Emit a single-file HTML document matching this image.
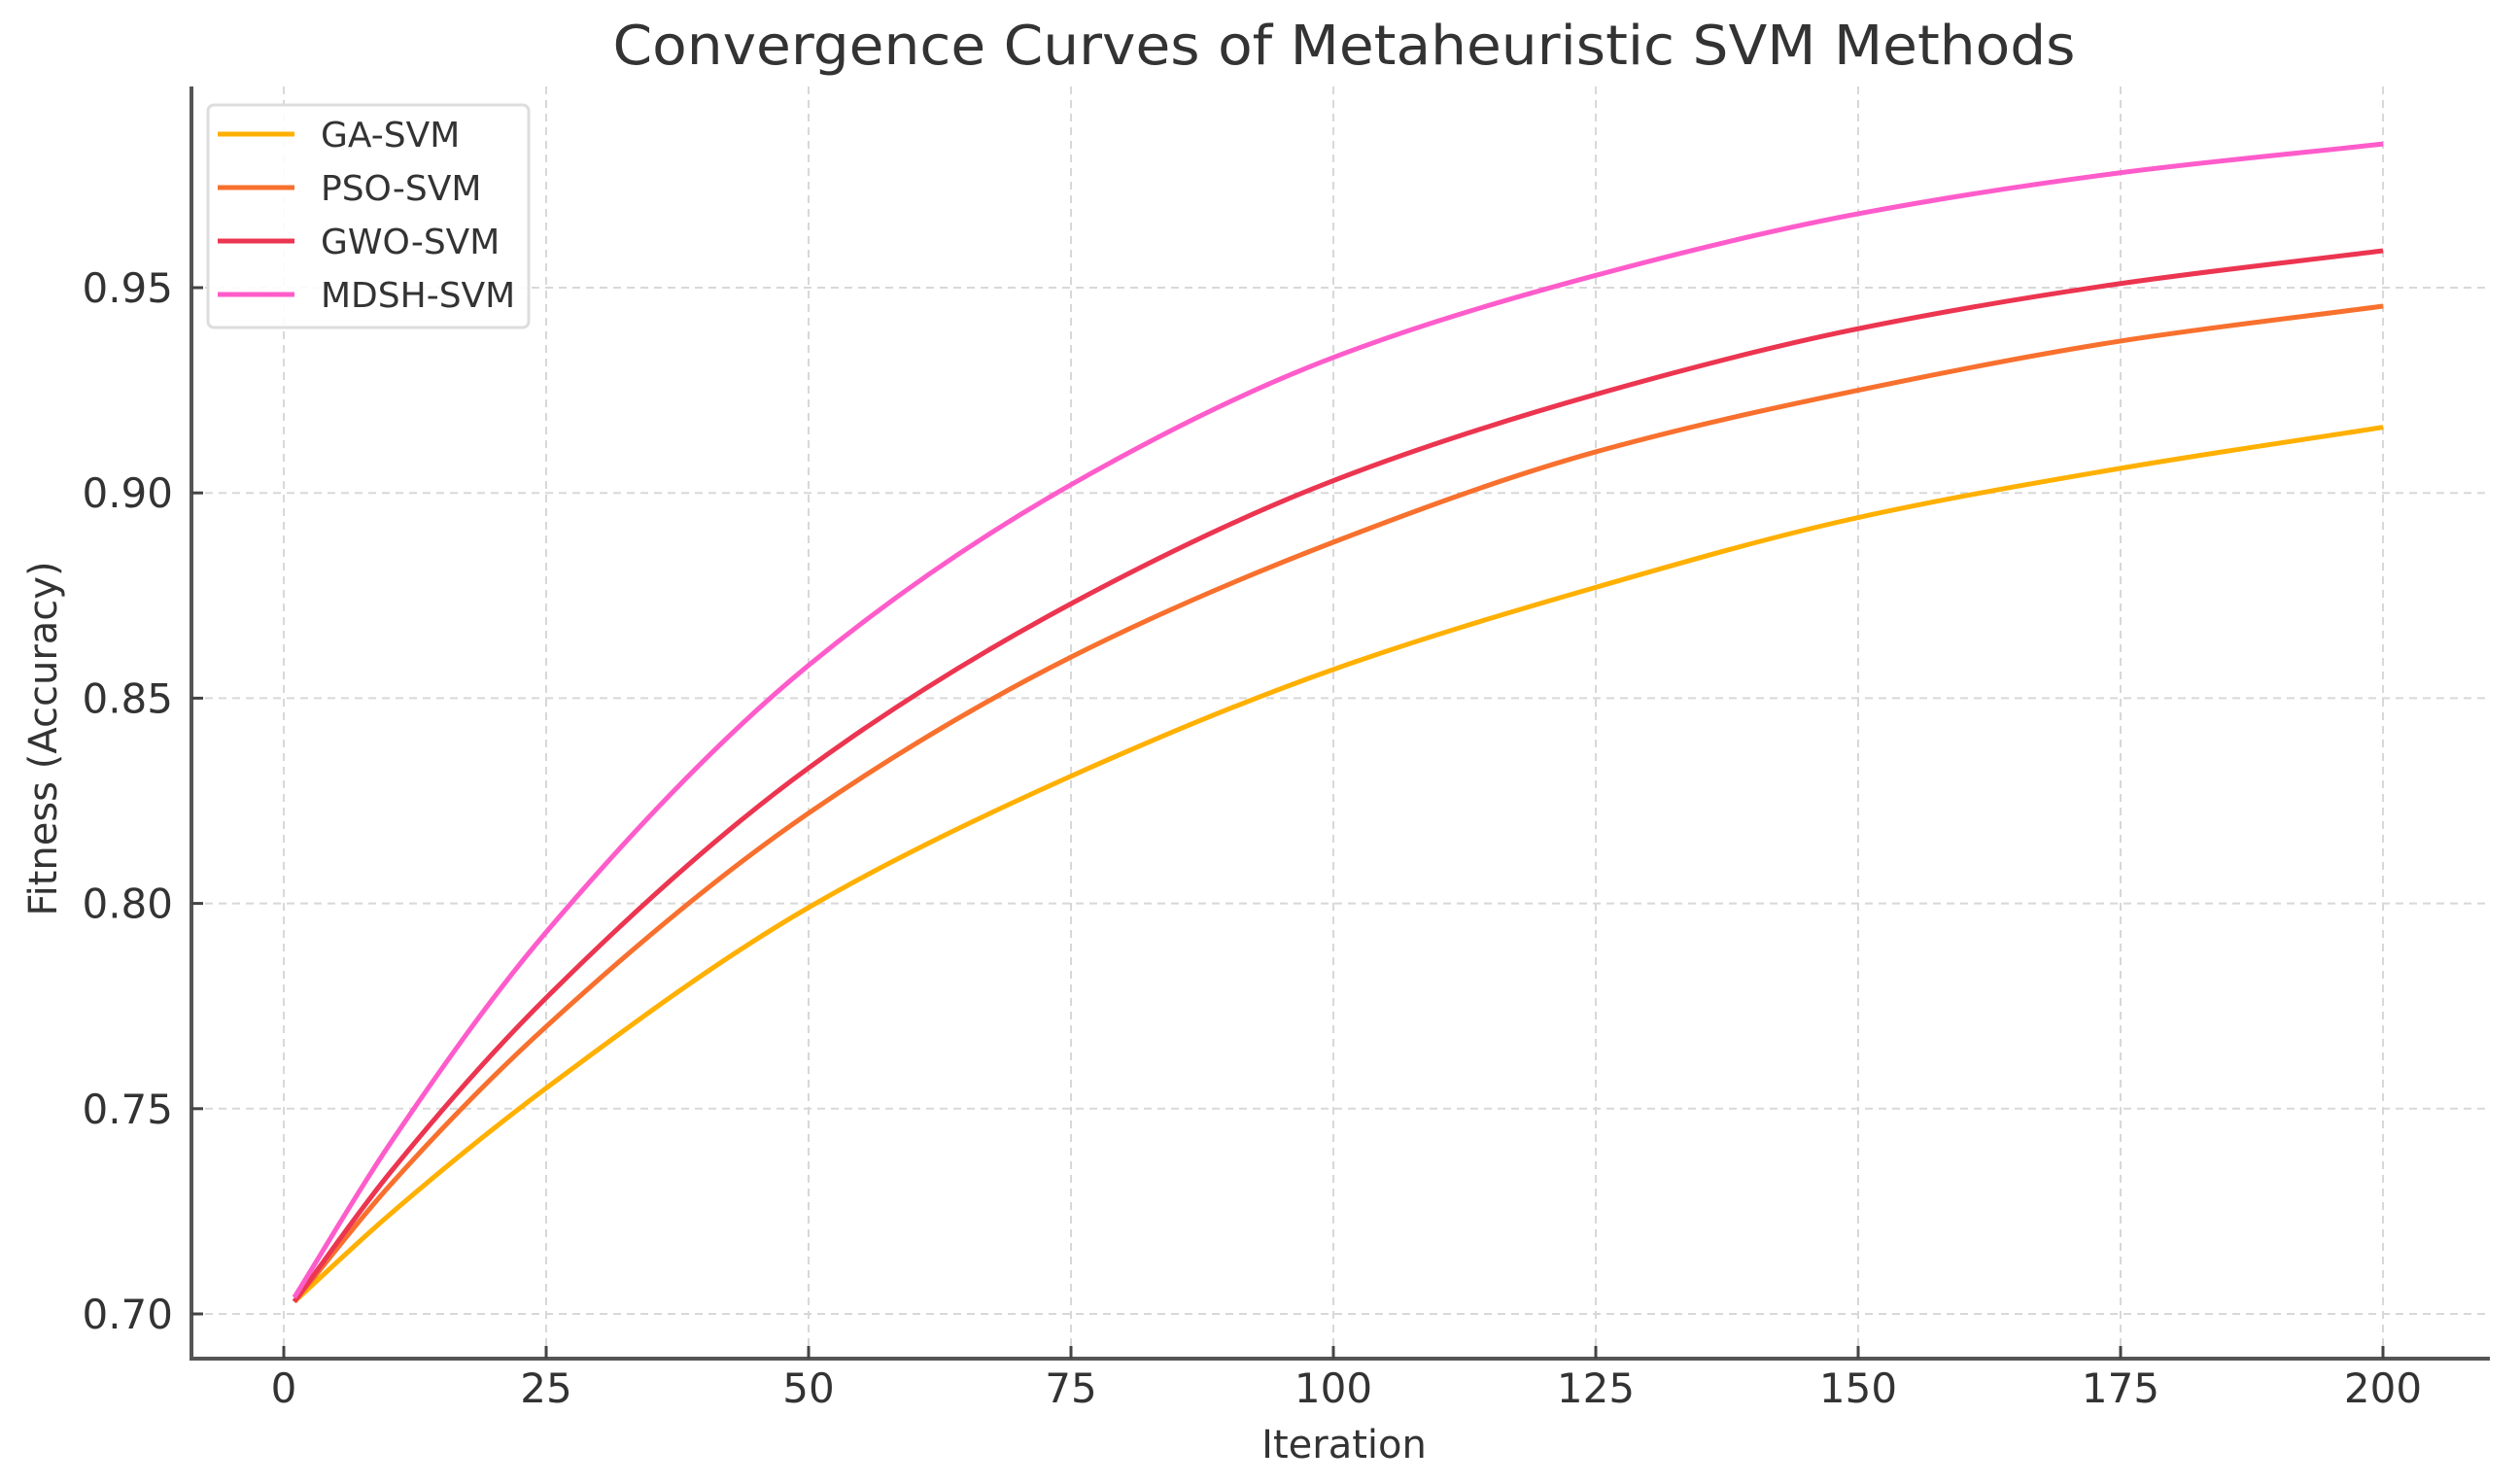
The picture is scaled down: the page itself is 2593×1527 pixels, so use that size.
<!DOCTYPE html>
<html><head><meta charset="utf-8"><style>
html,body{margin:0;padding:0;background:#fff;}
svg{display:block;font-family:"DejaVu Sans","Liberation Sans",sans-serif;}
</style></head><body>
<svg id="chart" width="2593" height="1527" viewBox="0 0 2593 1527" xmlns="http://www.w3.org/2000/svg">
<rect width="2593" height="1527" fill="#fff"/>
<text x="1383" y="66" text-anchor="middle" font-size="56" fill="#333" textLength="1505" lengthAdjust="spacingAndGlyphs">Convergence Curves of Metaheuristic SVM Methods</text>
<g id="grid"></g>
<g id="series"></g>
<line x1="197" y1="89" x2="197" y2="1400" stroke="#555" stroke-width="4"/>
<line x1="195" y1="1398" x2="2562" y2="1398" stroke="#555" stroke-width="4"/>
<g id="ticks"></g>
<text x="1383" y="1500" text-anchor="middle" font-size="40" fill="#333">Iteration</text>
<text transform="translate(58,760) rotate(-90)" text-anchor="middle" font-size="40" fill="#333">Fitness (Accuracy)</text>
<g id="legend"></g>
</svg>
<script>
const iterations=[1,10,25,50,75,100,125,150,175,200];
const gaValues=[0.703,0.724,0.755,0.799,0.831,0.857,0.877,0.894,0.906,0.916];
const psoValues=[0.703,0.731,0.770,0.822,0.860,0.888,0.910,0.925,0.937,0.9455];
const gwoValues=[0.703,0.734,0.777,0.833,0.873,0.903,0.924,0.940,0.951,0.959];
const mdshValues=[0.704,0.741,0.793,0.858,0.902,0.933,0.953,0.968,0.978,0.985];
const seriesNames=["GA-SVM","PSO-SVM","GWO-SVM","MDSH-SVM"];
const xTicks=[0,25,50,75,100,125,150,175,200];
const yTicks=[0.70,0.75,0.80,0.85,0.90,0.95];
const yTickLabels=["0.70","0.75","0.80","0.85","0.90","0.95"];

const NS="http://www.w3.org/2000/svg";
const colors=["#FFB000","#F8702E","#EC3550","#FF5CCB"];
const allSeries=[gaValues,psoValues,gwoValues,mdshValues];
function xs(v){return 292+(v-0)*(2452-292)/200;}
function ys(v){return 1352-(v-0.70)*(1352-296)/0.25;}
function mk(tag,attrs,parent){const e=document.createElementNS(NS,tag);for(const k in attrs)e.setAttribute(k,attrs[k]);parent.appendChild(e);return e;}
const grid=document.getElementById('grid'),ticks=document.getElementById('ticks'),ser=document.getElementById('series'),leg=document.getElementById('legend');
xTicks.forEach(t=>{
  const g=mk('line',{x1:xs(t),x2:xs(t),y1:89,y2:1398,stroke:'#d8d8d8','stroke-width':2,'stroke-dasharray':'8,6'},grid);
  
  
  const tk=mk('line',{x1:xs(t),x2:xs(t),y1:1385,y2:1398,stroke:'#444','stroke-width':3},ticks);
  
  
  const lb=mk('text',{x:xs(t),y:1443,'text-anchor':'middle','font-size':42,fill:'#333'},ticks);
  lb.textContent=String(t);
  
  
});
yTicks.forEach((t,i)=>{
  const g=mk('line',{x1:197,x2:2562,y1:ys(t),y2:ys(t),stroke:'#d8d8d8','stroke-width':2,'stroke-dasharray':'8,6'},grid);
  
  
  const tk=mk('line',{x1:197,x2:209,y1:ys(t),y2:ys(t),stroke:'#444','stroke-width':3},ticks);
  
  
  const lb=mk('text',{x:178,y:ys(t)+15,'text-anchor':'end','font-size':42,fill:'#333'},ticks);
  lb.textContent=yTickLabels[i];
  
  
});
// monotone cubic Hermite (Fritsch-Carlson) in data space
function pathFor(vals){
  const n=iterations.length,X=iterations,Y=vals;
  const d=[],m=new Array(n);
  for(let i=0;i<n-1;i++)d.push((Y[i+1]-Y[i])/(X[i+1]-X[i]));
  m[0]=d[0];m[n-1]=d[n-2];
  for(let i=1;i<n-1;i++){
    if(d[i-1]*d[i]<=0)m[i]=0;
    else{const h0=X[i]-X[i-1],h1=X[i+1]-X[i];const w1=2*h1+h0,w2=h1+2*h0;m[i]=(w1+w2)/(w1/d[i-1]+w2/d[i]);}
  }
  let s='M'+xs(X[0])+','+ys(Y[0]);
  for(let i=0;i<n-1;i++){
    const h=X[i+1]-X[i];
    const c1x=X[i]+h/3,c1y=Y[i]+m[i]*h/3,c2x=X[i+1]-h/3,c2y=Y[i+1]-m[i+1]*h/3;
    s+=' C'+xs(c1x)+','+ys(c1y)+' '+xs(c2x)+','+ys(c2y)+' '+xs(X[i+1])+','+ys(Y[i+1]);
  }
  return s;
}
allSeries.forEach((vals,i)=>{
  const pa=mk('path',{d:pathFor(vals),fill:'none',stroke:colors[i],'stroke-width':5,'stroke-linejoin':'round'},ser);
  
  
});
const box=mk('rect',{x:214,y:108,width:330,height:229,rx:6,fill:'#fff','fill-opacity':0.9,stroke:'#ddd','stroke-width':3},leg);


seriesNames.forEach((n,i)=>{
  const y=138+i*55;
  const l=mk('line',{x1:224,x2:303,y1:y,y2:y,stroke:colors[i],'stroke-width':5},leg);
  
  
  const t=mk('text',{x:330,y:y+13,'font-size':36,fill:'#333'},leg);
  t.textContent=n;
  
  
});
</script>
</body></html>
